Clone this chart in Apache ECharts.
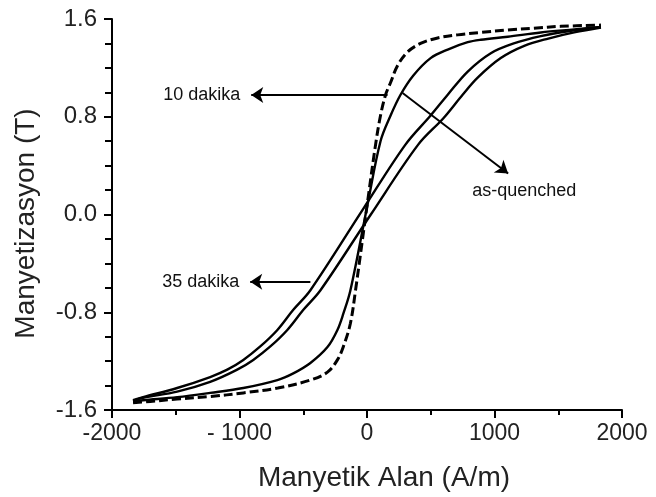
<!DOCTYPE html>
<html>
<head>
<meta charset="utf-8">
<script src="https://cdn.jsdelivr.net/npm/echarts@6/dist/echarts.min.js"></script>
<style>html,body{margin:0;padding:0;background:#fff}#c{width:656px;height:497px}</style>
</head>
<body>
<div id="c"></div>
<script>
// Hysteresis curves: [H (A/m), M (T)]
const dakika10 = [[-1835,-1.54],[-1700,-1.53],[-1490,-1.51],[-1230,-1.49],[-970,-1.46],[-700,-1.42],[-444,-1.355],[-310,-1.29],[-232,-1.19],[-185,-1.08],[-130,-0.89],[-90,-0.62],[4,0.10],[67,0.57],[106,0.81],[146,0.98],[185,1.08],[240,1.22],[318,1.33],[420,1.40],[554,1.445],[711,1.47],[892,1.49],[1104,1.51],[1308,1.525],[1520,1.54],[1835,1.55]];
const asQuenched = [[-1835,-1.53],[-1756,-1.52],[-1489,-1.495],[-1230,-1.46],[-970,-1.42],[-703,-1.355],[-578,-1.30],[-444,-1.215],[-310,-1.085],[-232,-0.945],[-185,-0.81],[-130,-0.62],[4,0.08],[106,0.60],[185,0.81],[263,0.98],[365,1.14],[499,1.28],[633,1.35],[790,1.41],[892,1.43],[1104,1.455],[1363,1.49],[1625,1.515],[1835,1.535]];
const dakika35Down = [[-1835,-1.52],[-1756,-1.495],[-1489,-1.42],[-1230,-1.33],[-1096,-1.27],[-970,-1.19],[-837,-1.08],[-703,-0.945],[-578,-0.78],[-444,-0.62],[-27,0.05],[300,0.57],[499,0.81],[633,0.98],[790,1.17],[971,1.32],[1151,1.40],[1363,1.46],[1576,1.50],[1835,1.535]];
const dakika35Up = [[-1835,-1.525],[-1756,-1.50],[-1489,-1.45],[-1230,-1.37],[-1018,-1.27],[-892,-1.19],[-758,-1.08],[-625,-0.945],[-499,-0.78],[-365,-0.62],[30,0.0],[400,0.57],[601,0.79],[750,0.98],[868,1.12],[1049,1.28],[1233,1.38],[1422,1.44],[1625,1.49],[1835,1.53]];

// Tick labels
const xTickLabels = {'-2000':'-2000','-1000':'- 1000','0':'0','1000':'1000','2000':'2000'};
const yTickLabels = {'1.6':'1.6','0.8':'0.8','0':'0.0','-0.8':'-0.8','-1.6':'-1.6'};

// Annotations
const annotationArrows = [
  {from:[161,0.978], to:[-908,0.978]},
  {from:[-444,-0.55], to:[-916,-0.55]},
  {from:[279,0.994], to:[1107,0.336]}
];
const annotationTexts = [
  {name:'10 dakika', coord:[-994,0.978], pos:'left'},
  {name:'35 dakika', coord:[-1002,-0.55], pos:'left'},
  {name:'as-quenched', coord:[1234,0.192], pos:'inside'}
];

const FONT = 'Liberation Sans, Arial, sans-serif';
const chart = echarts.init(document.getElementById('c'), null, {renderer:'canvas'});

function lineSeries(name, data, dashed){
  return {
    name: name, type:'line', data: data, showSymbol:false, symbol:'none',
    smooth:0.35, silent:true,
    lineStyle:{color:'#000', width: dashed?3:2.4, type: dashed?[9,4]:'solid'},
    emphasis:{disabled:true}
  };
}

const s1 = lineSeries('10 dakika', dakika10, true);
const s2 = lineSeries('as-quenched', asQuenched, false);
const s3 = lineSeries('35 dakika', dakika35Down, false);
const s4 = lineSeries('35 dakika', dakika35Up, false);

s2.markLine = {
  silent:true, symbol:['none','arrow'], symbolSize:12, animation:false,
  lineStyle:{color:'#000', width:2, type:'solid'},
  label:{show:false},
  data: annotationArrows.map(a => [{coord:a.from},{coord:a.to}])
};
s2.markPoint = {
  silent:true, symbol:'circle', symbolSize:0, animation:false,
  label:{show:true, color:'#111', fontFamily:FONT, fontSize:18, formatter:'{b}', distance:0},
  data: annotationTexts.map(t => ({name:t.name, coord:t.coord, label:{position:t.pos}}))
};

chart.setOption({
  animation:false,
  backgroundColor:'#fff',
  grid:{left:112, right:34, top:19, bottom:87},
  xAxis:{
    type:'value', min:-2000, max:2000, interval:1000,
    name:'Manyetik Alan (A/m)', nameLocation:'middle', nameGap:54,
    nameTextStyle:{fontFamily:FONT, fontSize:28, color:'#222', padding:[0,0,0,34]},
    axisLine:{show:true, onZero:false, lineStyle:{color:'#000', width:2}},
    axisTick:{show:true, inside:false, length:8, lineStyle:{color:'#000', width:2}},
    minorTick:{show:true, splitNumber:2, length:5, lineStyle:{color:'#000', width:2}},
    splitLine:{show:false},
    axisLabel:{fontFamily:FONT, fontSize:23, color:'#222', margin:12,
      formatter: v => xTickLabels[String(v)] ?? String(v)}
  },
  yAxis:{
    type:'value', min:-1.6, max:1.6, interval:0.8,
    name:'Manyetizasyon (T)', nameLocation:'middle', nameGap:72,
    nameTextStyle:{fontFamily:FONT, fontSize:28, color:'#222', padding:[0,18,0,0]},
    axisLine:{show:true, onZero:false, lineStyle:{color:'#000', width:2}},
    axisTick:{show:true, inside:false, length:8, lineStyle:{color:'#000', width:2}},
    minorTick:{show:true, splitNumber:4, length:7, lineStyle:{color:'#000', width:2}},
    splitLine:{show:false},
    axisLabel:{fontFamily:FONT, fontSize:24, color:'#222', margin:15,
      formatter: v => { const k = String(Math.round(v*10)/10); return yTickLabels[k] ?? v.toFixed(1); }}
  },
  series:[s1, s2, s3, s4]
});
</script>
</body>
</html>
